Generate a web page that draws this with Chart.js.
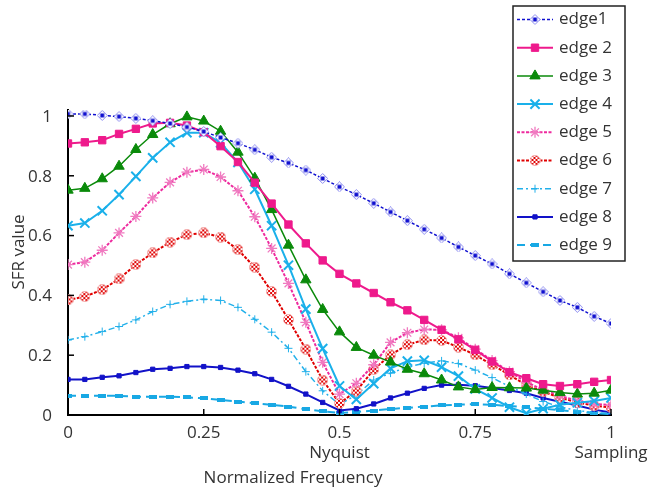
<!DOCTYPE html>
<html>
<head>
<meta charset="utf-8">
<script src="https://cdn.jsdelivr.net/npm/chart.js@4/dist/chart.umd.min.js"></script>
<style>
html, body { margin: 0; padding: 0; background: #fff; }
#wrap { width: 650px; height: 489px; }
</style>
</head>
<body>
<div id="wrap"><canvas id="chart" width="650" height="489"></canvas></div>
<script>
const freq = [0, 0.031, 0.063, 0.094, 0.125, 0.156, 0.188, 0.219, 0.25, 0.281, 0.313, 0.344, 0.375, 0.406, 0.438, 0.469,
    0.5, 0.531, 0.563, 0.594, 0.625, 0.656, 0.688, 0.719, 0.75, 0.781, 0.813, 0.844, 0.875, 0.906, 0.938, 0.969, 1]

const edge1 = [1.007, 1.007, 1.002, 0.998, 0.992, 0.984, 0.975, 0.963, 0.948, 0.928, 0.909, 0.887, 0.862, 0.843, 0.819, 0.791,
    0.763, 0.737, 0.708, 0.679, 0.650, 0.621, 0.592, 0.562, 0.533, 0.505, 0.472, 0.442, 0.412, 0.383, 0.360, 0.330, 0.306]
const edge2 = [0.908, 0.912, 0.919, 0.940, 0.957, 0.975, 0.977, 0.968, 0.946, 0.899, 0.846, 0.777, 0.707, 0.637, 0.574, 0.517,
    0.472, 0.440, 0.408, 0.377, 0.350, 0.318, 0.285, 0.253, 0.218, 0.179, 0.143, 0.123, 0.103, 0.097, 0.103, 0.111, 0.117]
const edge3 = [0.752, 0.758, 0.790, 0.832, 0.888, 0.938, 0.974, 0.997, 0.983, 0.949, 0.879, 0.792, 0.687, 0.568, 0.452, 0.353,
    0.278, 0.226, 0.200, 0.177, 0.153, 0.138, 0.117, 0.094, 0.085, 0.092, 0.091, 0.090, 0.083, 0.075, 0.070, 0.073, 0.083]
const edge4 = [0.633, 0.642, 0.683, 0.737, 0.798, 0.860, 0.912, 0.944, 0.944, 0.910, 0.845, 0.755, 0.633, 0.501, 0.354, 0.222,
    0.097, 0.052, 0.105, 0.156, 0.180, 0.183, 0.160, 0.130, 0.087, 0.057, 0.026, 0.006, 0.021, 0.034, 0.041, 0.047, 0.057]
const edge5 = [0.503, 0.511, 0.551, 0.609, 0.664, 0.726, 0.778, 0.812, 0.821, 0.796, 0.750, 0.663, 0.557, 0.440, 0.310, 0.176,
    0.070, 0.106, 0.168, 0.243, 0.275, 0.286, 0.285, 0.258, 0.220, 0.182, 0.145, 0.110, 0.084, 0.064, 0.048, 0.037, 0.033]
const edge6 = [0.385, 0.396, 0.419, 0.455, 0.503, 0.542, 0.578, 0.603, 0.609, 0.595, 0.553, 0.494, 0.413, 0.319, 0.220, 0.117,
    0.039, 0.080, 0.152, 0.201, 0.235, 0.251, 0.249, 0.227, 0.201, 0.168, 0.134, 0.100, 0.078, 0.058, 0.042, 0.031, 0.025]
const edge7 = [0.251, 0.262, 0.279, 0.296, 0.318, 0.346, 0.370, 0.380, 0.387, 0.383, 0.360, 0.320, 0.277, 0.223, 0.145, 0.081,
    0.035, 0.067, 0.117, 0.140, 0.160, 0.173, 0.181, 0.172, 0.150, 0.125, 0.095, 0.070, 0.045, 0.027, 0.015, 0.008, 0.005]
const edge8 = [0.119, 0.119, 0.126, 0.131, 0.142, 0.153, 0.156, 0.162, 0.162, 0.159, 0.150, 0.138, 0.119, 0.096, 0.070, 0.042,
    0.015, 0.021, 0.037, 0.057, 0.073, 0.089, 0.100, 0.101, 0.098, 0.090, 0.082, 0.073, 0.057, 0.044, 0.032, 0.018, 0.008]
const edge9 = [0.064, 0.064, 0.064, 0.064, 0.061, 0.061, 0.061, 0.059, 0.056, 0.050, 0.045, 0.039, 0.034, 0.028, 0.019, 0.012,
    0.007, 0.010, 0.015, 0.020, 0.024, 0.028, 0.032, 0.035, 0.036, 0.034, 0.030, 0.026, 0.021, 0.016, 0.011, 0.006, 0.003]

const seriesNames = ['edge1', 'edge 2', 'edge 3', 'edge 4', 'edge 5', 'edge 6', 'edge 7', 'edge 8', 'edge 9']
const xTicks = [0, 0.25, 0.5, 0.75, 1]
const xTickLabels = ['0', '0.25', '0.5', '0.75', '1']
const xTickNotes = ['', '', 'Nyquist', '', 'Sampling']
const yTicks = [0, 0.2, 0.4, 0.6, 0.8, 1]
const yTickLabels = ['0', '0.2', '0.4', '0.6', '0.8', '1']

const FONT = '"Open Sans", "DejaVu Sans", sans-serif'
const TEXT = '#333333'

// small canvases for the markers chart.js has no style for
function markerCanvas(w, h, draw) {
    const c = document.createElement('canvas')
    c.width = w
    c.height = h
    draw(c.getContext('2d'))
    return c
}
const diamondMark = markerCanvas(11, 11, ctx => {
    ctx.beginPath()
    ctx.moveTo(5.5, 0.5); ctx.lineTo(10.5, 5.5); ctx.lineTo(5.5, 10.5); ctx.lineTo(0.5, 5.5); ctx.closePath()
    ctx.fillStyle = '#fff'
    ctx.fill()
    ctx.strokeStyle = '#8a8af0'
    ctx.lineWidth = 1
    ctx.stroke()
    ctx.fillStyle = '#1010d0'
    ctx.fillRect(3.5, 3.5, 4, 4)
})
const checkerMark = markerCanvas(11, 11, ctx => {
    ctx.beginPath()
    ctx.arc(5.5, 5.5, 5, 0, Math.PI * 2)
    ctx.fillStyle = '#e00000'
    ctx.fill()
    ctx.save()
    ctx.clip()
    ctx.fillStyle = '#fff'
    for (let i = 0; i < 6; i++) {
        for (let j = 0; j < 6; j++) {
            if ((i + j) % 2 === 0) ctx.fillRect(i * 2, j * 2, 2, 2)
        }
    }
    ctx.restore()
    ctx.strokeStyle = '#f4b0b0'
    ctx.lineWidth = 1
    ctx.stroke()
})
const dashMark = markerCanvas(8, 4, ctx => {
    ctx.fillStyle = '#18a8e4'
    ctx.fillRect(0, 0, 8, 4)
})

const styles = [
    { color: '#1010d0', width: 1.5, dash: [3, 2], point: diamondMark, radius: 5, pointColor: '#1010d0', pointWidth: 1 },
    { color: '#ee1a8c', width: 2, dash: [], point: 'rect', radius: 5.2, pointColor: '#ee1a8c', pointWidth: 1 },
    { color: '#0a8a0a', width: 1.5, dash: [], point: 'triangle', radius: 6, pointColor: '#0a8a0a', pointWidth: 1 },
    { color: '#1ab0ea', width: 2, dash: [], point: 'crossRot', radius: 6.5, pointColor: '#1ab0ea', pointWidth: 2 },
    { color: '#ee2a9e', width: 2, dash: [3, 1.5], point: 'star', radius: 5.5, pointColor: '#f07ac0', pointWidth: 1.3 },
    { color: '#e00000', width: 2, dash: [3, 1.5], point: checkerMark, radius: 5, pointColor: '#e00000', pointWidth: 1 },
    { color: '#22b0ea', width: 1.5, dash: [6, 3, 2, 3], point: 'cross', radius: 4, pointColor: '#22b0ea', pointWidth: 1 },
    { color: '#1212c8', width: 2, dash: [], point: 'rect', radius: 3, pointColor: '#1212c8', pointWidth: 1 },
    { color: '#18a8e4', width: 2, dash: [8, 5], point: dashMark, radius: 4, pointColor: '#18a8e4', pointWidth: 1 }
]

const seriesValues = [edge1, edge2, edge3, edge4, edge5, edge6, edge7, edge8, edge9]

const datasets = seriesValues.map((values, k) => ({
    label: seriesNames[k],
    data: values.map((v, i) => ({ x: freq[i], y: v })),
    borderColor: styles[k].color,
    borderWidth: styles[k].width,
    borderDash: styles[k].dash,
    pointStyle: styles[k].point,
    pointRadius: styles[k].radius,
    pointBackgroundColor: styles[k].pointColor,
    pointBorderColor: styles[k].pointColor,
    pointBorderWidth: styles[k].pointWidth,
    tension: 0,
    fill: false
}))

const sfrDecorations = {
    id: 'sfrDecorations',
    afterDraw(chart) {
        const { ctx, chartArea, scales: { x, y } } = chart
        ctx.save()
        // inward tick marks
        ctx.strokeStyle = '#000'
        ctx.lineWidth = 1.5
        xTicks.forEach(v => {
            const px = x.getPixelForValue(v)
            ctx.beginPath()
            ctx.moveTo(px, chartArea.bottom)
            ctx.lineTo(px, chartArea.bottom - 6)
            ctx.stroke()
        })
        yTicks.forEach(v => {
            const py = y.getPixelForValue(v)
            ctx.beginPath()
            ctx.moveTo(chartArea.left, py)
            ctx.lineTo(chartArea.left + 6, py)
            ctx.stroke()
        })
        ctx.fillStyle = TEXT
        ctx.font = '17px ' + FONT
        ctx.textAlign = 'center'
        ctx.textBaseline = 'middle'
        // x tick labels, with a second line under the 0.5 and 1 ticks
        xTicks.forEach((v, i) => {
            const px = x.getPixelForValue(v)
            ctx.fillText(xTickLabels[i], px, chartArea.bottom + 18)
            if (xTickNotes[i]) ctx.fillText(xTickNotes[i], px, chartArea.bottom + 38)
        })
        // axis titles, both sit off centre in the original
        ctx.fillText('Normalized Frequency', 293, 478)
        ctx.save()
        ctx.translate(19, 252)
        ctx.rotate(-Math.PI / 2)
        ctx.fillText('SFR value', 0, 0)
        ctx.restore()

        // legend box
        const box = { left: 513, top: 6, right: 625, bottom: 261 }
        ctx.fillStyle = '#fff'
        ctx.fillRect(box.left, box.top, box.right - box.left, box.bottom - box.top)
        ctx.strokeStyle = '#222'
        ctx.lineWidth = 1.5
        ctx.strokeRect(box.left, box.top, box.right - box.left, box.bottom - box.top)
        chart.data.datasets.forEach((ds, k) => {
            const rowY = 19.5 + k * 28.2
            ctx.save()
            ctx.strokeStyle = ds.borderColor
            ctx.lineWidth = ds.borderWidth
            ctx.setLineDash(ds.borderDash)
            ctx.beginPath()
            ctx.moveTo(517, rowY)
            ctx.lineTo(553, rowY)
            ctx.stroke()
            ctx.restore()
            ctx.save()
            ctx.fillStyle = ds.pointBackgroundColor
            ctx.strokeStyle = ds.pointBorderColor
            ctx.lineWidth = ds.pointBorderWidth
            Chart.helpers.drawPoint(ctx, {
                pointStyle: ds.pointStyle,
                radius: ds.pointRadius,
                rotation: 0,
                borderWidth: ds.pointBorderWidth
            }, 535, rowY)
            ctx.restore()
            ctx.fillStyle = TEXT
            ctx.textAlign = 'left'
            ctx.fillText(ds.label, 559, rowY)
        })
        ctx.restore()
    }
}

const chart = new Chart(document.getElementById('chart'), {
    type: 'line',
    data: { datasets },
    options: {
        responsive: false,
        animation: false,
        devicePixelRatio: 1,
        layout: { padding: { top: 110, right: 39, left: 0, bottom: 0 } },
        plugins: {
            legend: { display: false },
            tooltip: { enabled: false }
        },
        scales: {
            x: {
                type: 'linear',
                min: 0,
                max: 1,
                grid: { display: false },
                border: { display: true, color: '#000', width: 2 },
                ticks: { display: false },
                afterFit: scale => {
                    scale.height = 74
                    scale.paddingLeft = 0
                    scale.paddingRight = 0
                }
            },
            y: {
                min: 0,
                max: 1.02,
                grid: { display: false },
                border: { display: true, color: '#000', width: 2 },
                afterBuildTicks: scale => { scale.ticks = yTicks.map(v => ({ value: v })) },
                afterFit: scale => { scale.width = 68 },
                ticks: {
                    padding: 8,
                    labelOffset: 1,
                    color: TEXT,
                    font: { family: FONT, size: 17 },
                    callback: (value) => yTickLabels[yTicks.indexOf(value)]
                }
            }
        }
    },
    plugins: [sfrDecorations]
})
</script>
</body>
</html>
